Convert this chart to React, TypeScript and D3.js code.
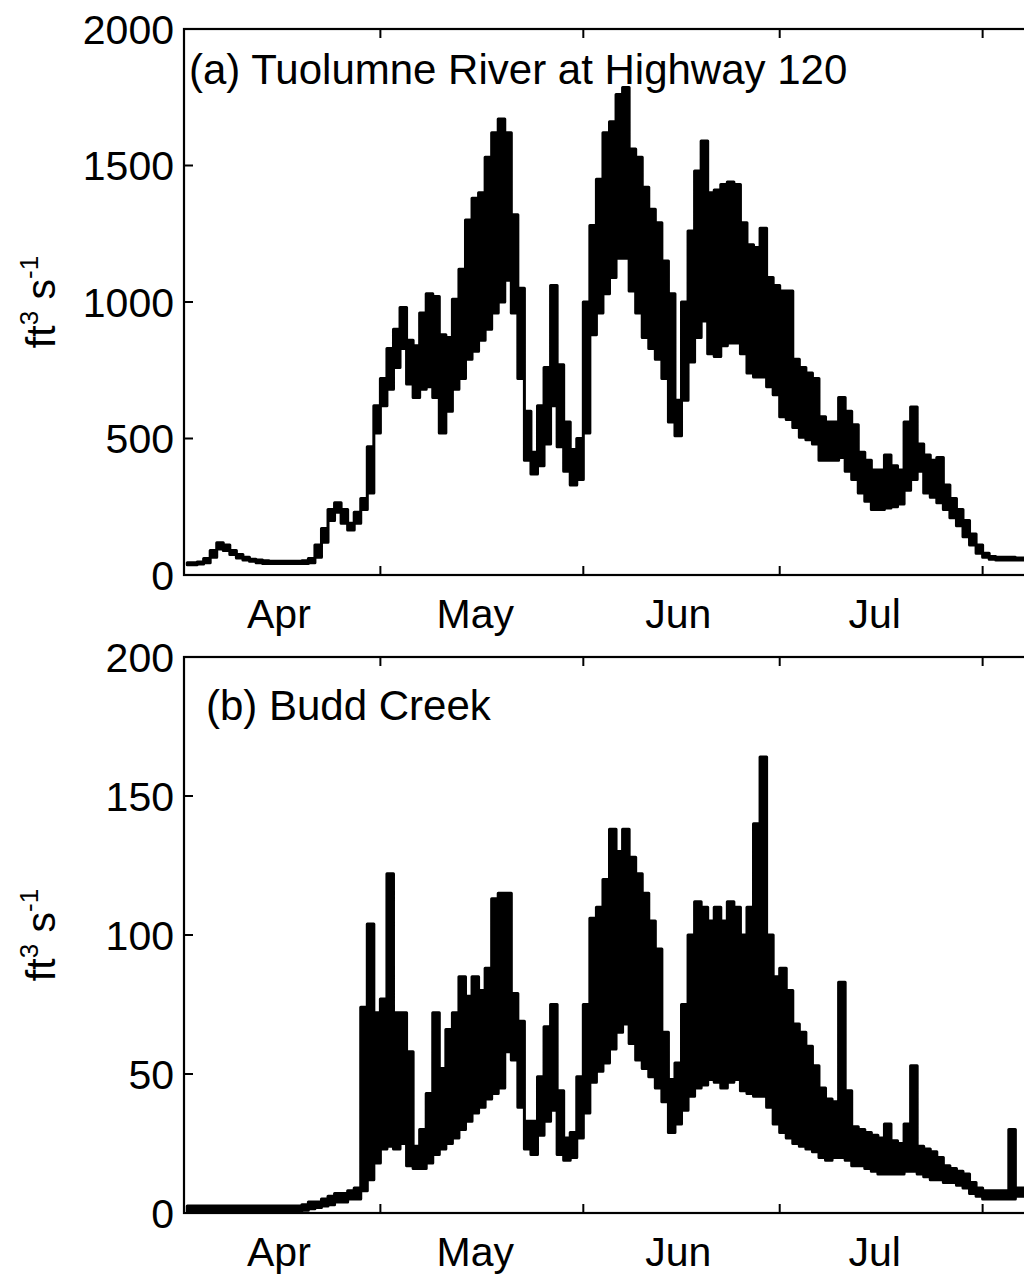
import * as d3 from "d3";

// day 0 = 1 April, one entry per day: daily low and high flow (ft3/s)
const tuolumneMin = [
  38, 38, 40, 45, 65, 95, 90, 75, 62, 55,
  50, 45, 42, 42, 42, 42, 42, 42, 42, 45,
  65, 120, 200, 230, 190, 165, 190, 240, 300, 520,
  620, 680, 760, 830, 700, 650, 680, 690, 650, 520,
  600, 680, 720, 790, 820, 860, 900, 960, 1000, 1080,
  960, 720, 420, 370, 400, 480, 620, 470, 380, 330,
  350, 520, 880, 960, 1030, 1090, 1160, 1160, 1040, 960,
  870, 830, 790, 720, 560, 510, 640, 780, 870, 930,
  810, 800, 840, 850, 850, 810, 740, 725, 725, 690,
  660, 580, 570, 540, 505, 495, 480, 420, 420, 420,
  430, 380, 350, 300, 270, 240, 240, 245, 250, 260,
  310, 350, 380, 300, 285, 265, 240, 210, 180, 140,
  110, 80, 65, 58, 55, 55, 55, 55, 55,
];
const tuolumneMax = [
  45, 45, 48, 60, 90, 118, 110, 90, 75, 65,
  58, 55, 52, 50, 50, 50, 50, 50, 52, 60,
  110, 170, 240, 265, 240, 190, 230, 280, 470, 620,
  720, 830, 900, 980, 860, 840, 960, 1030, 1020, 880,
  870, 1010, 1120, 1300, 1380, 1400, 1530, 1620, 1670, 1620,
  1320, 1050, 600, 450, 620, 760, 1060, 770, 560, 460,
  500, 1000, 1280, 1450, 1620, 1660, 1760, 1786, 1560, 1530,
  1420, 1340, 1290, 1150, 1030, 640, 1000, 1260, 1480, 1590,
  1400, 1410, 1430, 1440, 1430, 1290, 1210, 1200, 1270, 1090,
  1060, 1040, 1040, 790, 760, 740, 720, 580, 560, 560,
  650, 600, 550, 450, 420, 385, 385, 440, 400, 385,
  560, 615, 480, 440, 420, 430, 330, 280, 240, 200,
  150, 110, 80, 68, 65, 65, 65, 62, 62,
];
const buddMin = [
  0.5, 0.5, 0.5, 0.5, 0.5, 0.5, 0.5, 0.5, 0.5, 0.5,
  0.5, 0.5, 0.5, 0.5, 0.5, 0.5, 0.5, 0.5, 1, 1.5,
  2, 2.5, 3, 4, 4, 5, 5, 8, 12, 18,
  23, 24, 23, 25, 17, 16, 16, 18, 21, 23,
  25, 27, 30, 33, 36, 38, 41, 43, 45, 58,
  55, 38, 23, 21, 28, 33, 37, 21, 19, 20,
  27, 36, 47, 51, 54, 59, 65, 68, 61, 55,
  52, 49, 45, 40, 29, 32, 37, 42, 45, 46,
  48, 47, 45, 47, 48, 44, 43, 42, 42, 38,
  32, 29, 27, 25, 24, 23, 22, 20, 19, 20,
  20, 19, 17, 17, 16, 15, 14, 14, 14, 14,
  15, 15, 14, 13, 12, 12, 11, 11, 10, 9,
  7, 6, 5, 5, 5, 5, 5, 6, 6,
];
const buddMax = [
  2.5, 2.5, 2.5, 2.5, 2.5, 2.5, 2.5, 2.5, 2.5, 2.5,
  2.5, 2.5, 2.5, 2.5, 2.5, 2.5, 2.5, 2.5, 3, 4,
  4, 5, 6, 7, 7, 8, 9, 74, 104, 72,
  77, 122, 72, 72, 58, 24, 30, 43, 72, 52,
  66, 72, 85, 78, 85, 80, 88, 113, 115, 115,
  79, 69, 33, 33, 49, 67, 75, 44, 27, 29,
  49, 75, 106, 110, 120, 138, 130, 138, 128, 122,
  115, 105, 95, 65, 48, 54, 75, 100, 112, 110,
  105, 110, 105, 112, 110, 100, 110, 140, 164, 100,
  85, 88, 80, 68, 65, 60, 53, 45, 41, 40,
  83, 44, 31, 30, 29, 28, 27, 32, 26, 25,
  32, 53, 24, 23, 22, 20, 17, 16, 15, 14,
  11, 9, 8, 8, 8, 8, 30, 9, 9,
];

// only four months fall inside the visible part of the axis
const monthLabels = ["Apr", "May", "Jun", "Jul"];
const tuolumneTicks = [0, 500, 1000, 1500, 2000];
const buddTicks = [0, 50, 100, 150, 200];

const start = new Date(Date.UTC(2005, 3, 1));
const end = new Date(Date.UTC(2005, 7, 9));
const DAY = 86400000;

const font = "'Liberation Sans', Arial, Helvetica, sans-serif";

const x = d3.scaleUtc().domain([start, end]).range([184, 1035]);

type Day = { t: Date; lo: number; hi: number };

const toDays = (lo: number[], hi: number[]): Day[] =>
  lo.map((v, d) => ({
    t: new Date(start.getTime() + (d + 0.5) * DAY),
    lo: v,
    hi: hi[d],
  }));

const Panel = ({
  top,
  bottom,
  domainMax,
  ticks,
  lo,
  hi,
  title,
  titleX,
  titleY,
}: {
  top: number;
  bottom: number;
  domainMax: number;
  ticks: number[];
  lo: number[];
  hi: number[];
  title: string;
  titleX: number;
  titleY: number;
}) => {
  const y = d3.scaleLinear().domain([0, domainMax]).range([bottom, top]);
  // the hourly record swings between the daily low and high, so it reads as a band
  const band = d3
    .area<Day>()
    .curve(d3.curveStep)
    .x((p) => x(p.t))
    .y0((p) => y(p.lo))
    .y1((p) => y(p.hi));
  const [x0, x1] = x.range();
  const months = d3.utcMonth.range(start, end);
  const tl = 9;
  const midY = (top + bottom) / 2;

  return (
    <g fontFamily={font} fill="#000">
      <path
        d={band(toDays(lo, hi)) ?? ""}
        fill="#000"
        stroke="#000"
        strokeWidth={3}
        strokeLinejoin="round"
      />

      {/* frame */}
      <rect
        x={x0}
        y={top}
        width={x1 - x0}
        height={bottom - top}
        fill="none"
        stroke="#000"
        strokeWidth={2.2}
      />

      {/* y ticks */}
      {ticks.map((t) => (
        <g key={t}>
          <line x1={x0} x2={x0 + tl} y1={y(t)} y2={y(t)} stroke="#000" strokeWidth={2} />
          <line x1={x1} x2={x1 - tl} y1={y(t)} y2={y(t)} stroke="#000" strokeWidth={2} />
          <text x={x0 - 10} y={y(t)} dy="0.36em" textAnchor="end" fontSize={41}>
            {t}
          </text>
        </g>
      ))}

      {/* x ticks at month starts, labels mid-month */}
      {months.map((m, i) => (
        <g key={i}>
          {i > 0 && (
            <>
              <line x1={x(m)} x2={x(m)} y1={bottom} y2={bottom - tl} stroke="#000" strokeWidth={2} />
              <line x1={x(m)} x2={x(m)} y1={top} y2={top + tl} stroke="#000" strokeWidth={2} />
            </>
          )}
          {monthLabels[i] && (
            <text
              x={x(new Date(m.getTime() + 14.5 * DAY))}
              y={bottom + 53}
              textAnchor="middle"
              fontSize={41}
            >
              {monthLabels[i]}
            </text>
          )}
        </g>
      ))}

      <text x={titleX} y={titleY} fontSize={42}>
        {title}
      </text>

      <text transform={`translate(55,${midY}) rotate(-90)`} textAnchor="middle" fontSize={41}>
        ft
        <tspan fontSize={26} dy={-17}>
          3
        </tspan>
        <tspan fontSize={41} dy={17}>
          {" s"}
        </tspan>
        <tspan fontSize={26} dy={-17}>
          -1
        </tspan>
      </text>
    </g>
  );
};

export default function App() {
  return (
    <div
      style={{
        position: "absolute",
        left: 0,
        top: 0,
        width: 1024,
        height: 1275,
        overflow: "hidden",
        background: "#fff",
      }}
    >
      <svg width={1024} height={1275} style={{ display: "block" }}>
        <rect width={1024} height={1275} fill="#fff" />
        <Panel
          top={29}
          bottom={575}
          domainMax={2000}
          ticks={tuolumneTicks}
          lo={tuolumneMin}
          hi={tuolumneMax}
          title="(a) Tuolumne River at Highway 120"
          titleX={189}
          titleY={84}
        />
        <Panel
          top={657}
          bottom={1213}
          domainMax={200}
          ticks={buddTicks}
          lo={buddMin}
          hi={buddMax}
          title="(b) Budd Creek"
          titleX={206}
          titleY={720}
        />
      </svg>
    </div>
  );
}
